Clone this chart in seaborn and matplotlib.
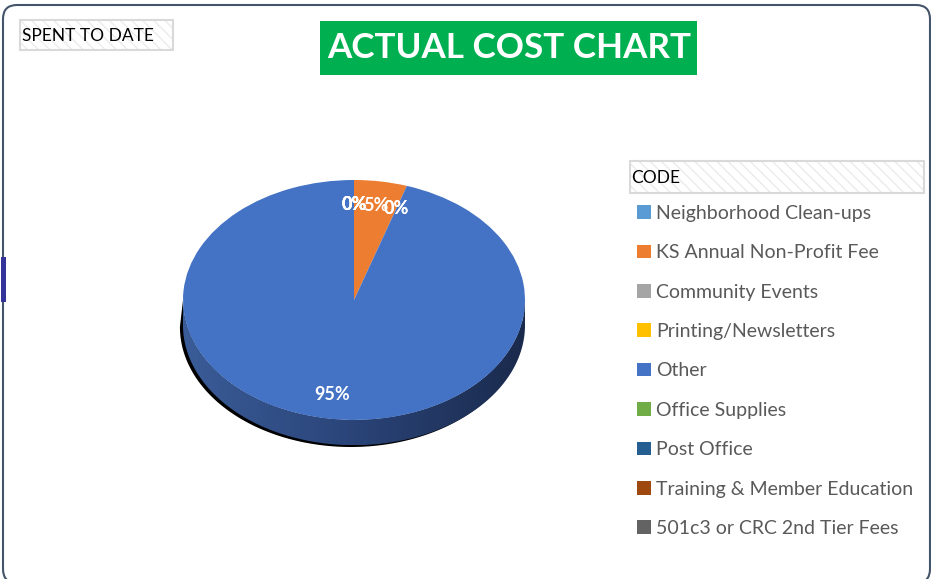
import matplotlib
matplotlib.use('Agg')
import matplotlib.pyplot as plt
import seaborn as sns
import numpy as np
from matplotlib.patches import Rectangle, Polygon, FancyBboxPatch
from matplotlib.colors import LinearSegmentedColormap

# spending by code (percent of total)
categories = ['Neighborhood Clean-ups', 'KS Annual Non-Profit Fee', 'Community Events',
              'Printing/Newsletters', 'Other', 'Office Supplies', 'Post Office',
              'Training & Member Education', '501c3 or CRC 2nd Tier Fees']
spent = [0, 5, 0, 0, 95, 0, 0, 0, 0]
colors = ['#5b9bd5', '#ed7d31', '#a5a5a5', '#ffc000', '#4472c4',
          '#70ad47', '#255e91', '#9e480e', '#636363']

sns.set_style('white')
plt.rcParams['font.family'] = ['Lato', 'DejaVu Sans']
plt.rcParams['hatch.linewidth'] = 1.0

W, H = 931, 579
fig = plt.figure(figsize=(W / 100, H / 100), dpi=100)


def fbox(x0, y0, x1, y1):
    # pixel box (top-left origin) -> figure fraction rect
    return [x0 / W, 1 - y1 / H, (x1 - x0) / W, (y1 - y0) / H]


def hatched_box(x0, y0, x1, y1):
    r = fbox(x0, y0, x1, y1)
    fig.add_artist(Rectangle((r[0], r[1]), r[2], r[3], transform=fig.transFigure,
                             facecolor='white', edgecolor='#ebebeb', hatch='\\\\\\', lw=0))
    fig.add_artist(Rectangle((r[0], r[1]), r[2], r[3], transform=fig.transFigure,
                             fill=False, edgecolor='#d9d9d9', lw=1.5))


# chart frame
fig.add_artist(FancyBboxPatch((3, -4), 927, 578, boxstyle='round,pad=0,rounding_size=14',
                              transform=None, fill=False, edgecolor='#44546a', lw=1.5))
fig.add_artist(Rectangle((1, H - 302), 5, 45, transform=None, color='#333399', lw=0))

# pie axes: unit circle mapped to an ellipse (tilted 3D look)
cx, cy, sx, sy = 354, 300, 171, 120
xl, yl = (-1.1, 1.1), (-1.6, 1.1)
ax = fig.add_axes(fbox(cx + xl[0] * sx, cy - yl[1] * sy, cx + xl[1] * sx, cy - yl[0] * sy))

depth = 0.21
t = np.linspace(np.pi, 2 * np.pi, 200)


def band(d, dx=0.0, scale=1.0):
    lower = np.column_stack([dx + scale * np.cos(t), -d + np.sin(t)])
    upper = np.column_stack([np.cos(t[::-1]), np.sin(t[::-1])])
    return np.vstack([lower, upper])


ax.add_patch(Polygon(band(depth + 0.015, dx=-0.018, scale=1.0), closed=True,
                     color='black', lw=0, zorder=0))
side = Polygon(band(depth), closed=True, facecolor='none', lw=0, zorder=1)
ax.add_patch(side)
grad = np.linspace(0, 1, 256).reshape(1, -1)
cmap = LinearSegmentedColormap.from_list('side', ['#3a5c98', '#2a4478', '#1a2a4c'])
im = ax.imshow(grad, extent=[-1, 1, -1 - depth, 0], cmap=cmap, aspect='auto', zorder=1)
im.set_clip_path(side)

wedges, texts, autotexts = ax.pie(
    spent, colors=colors, startangle=90, counterclock=False,
    autopct='%1.0f%%', pctdistance=0.8, wedgeprops=dict(linewidth=0),
    textprops=dict(color='white', fontsize=13, fontweight='bold'))
for w in wedges:
    w.set_zorder(2)
for a in autotexts:
    a.set_zorder(3)
ax.set_aspect('auto')
ax.set_xlim(xl)
ax.set_ylim(yl)
ax.axis('off')

# title
r = fbox(320, 21, 697, 75)
fig.add_artist(Rectangle((r[0], r[1]), r[2], r[3], transform=fig.transFigure,
                         color='#00b050', lw=0))
fig.text(509 / W, 1 - 48 / H, 'ACTUAL COST CHART', color='white', fontsize=25.2,
         fontweight='bold', ha='center', va='center')

# spent-to-date label
hatched_box(20, 20, 173, 50)
fig.text(22 / W, 1 - 36 / H, 'SPENT TO DATE', color='black', fontsize=12.5,
         ha='left', va='center')

# legend
hatched_box(630, 161, 924, 193)
fig.text(631 / W, 1 - 178 / H, 'CODE', color='black', fontsize=12.5,
         ha='left', va='center')
fig.legend(wedges, categories, loc='upper left', bbox_to_anchor=(637 / W, 1 - 205 / H),
           frameon=False, fontsize=14, labelcolor='#595959', handlelength=0.7,
           handleheight=0.7, handletextpad=0.3, labelspacing=1.15,
           borderpad=0, borderaxespad=0)

fig.savefig('out.png', dpi=100)
